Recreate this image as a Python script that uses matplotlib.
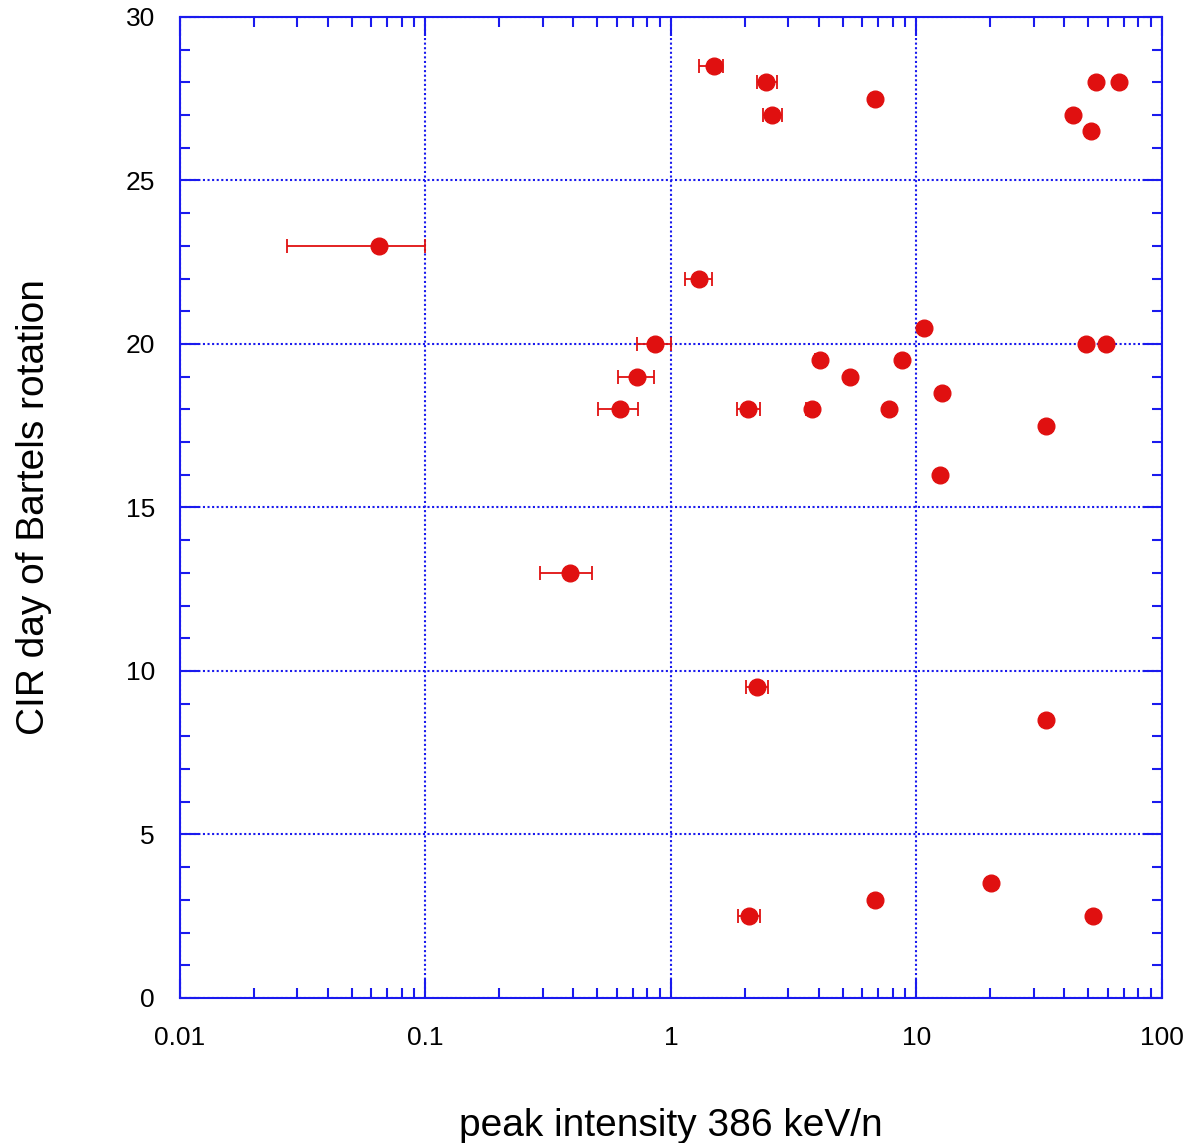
import numpy as np
import matplotlib.pyplot as plt
from matplotlib.ticker import FixedLocator, MultipleLocator, LogLocator, NullFormatter

# peak intensity (x), CIR day (y), and error bar ends (low / high)
intensity = [0.0647, 0.388, 0.619, 0.727, 0.861, 1.30, 1.50, 2.44, 2.58, 6.78,
             2.06, 3.75, 4.05, 5.36, 7.73, 8.73, 10.7, 12.7, 12.5, 33.7,
             49.0, 59.2, 43.4, 51.4, 53.8, 66.8, 2.24, 33.7, 2.08, 6.78,
             20.1, 52.4]
cir_day = [23, 13, 18, 19, 20, 22, 28.5, 28, 27, 27.5,
           18, 18, 19.5, 19, 18, 19.5, 20.5, 18.5, 16, 17.5,
           20, 20, 27, 26.5, 28, 28, 9.5, 8.5, 2.5, 3,
           3.5, 2.5]
err_lo = [0.0273, 0.292, 0.505, 0.608, 0.727, 1.14, 1.30, 2.24, 2.37, 6.78,
          1.86, 3.55, 3.85, 5.36, 7.73, 8.73, 10.7, 12.7, 12.5, 33.7,
          49.0, 59.2, 43.4, 51.4, 53.8, 66.8, 2.02, 33.7, 1.88, 6.78,
          20.1, 52.4]
err_hi = [0.100, 0.476, 0.735, 0.853, 1.00, 1.47, 1.63, 2.70, 2.83, 6.78,
          2.31, 3.95, 4.25, 5.36, 7.73, 8.73, 10.7, 12.7, 12.5, 33.7,
          49.0, 59.2, 43.4, 51.4, 53.8, 66.8, 2.48, 33.7, 2.30, 6.78,
          20.1, 52.4]

x = np.array(intensity)
xerr = np.vstack([x - np.array(err_lo), np.array(err_hi) - x])

plt.rcParams['font.family'] = ['Liberation Sans', 'DejaVu Sans']
blue = '#1a1aee'
red = '#e01010'

fig = plt.figure(figsize=(11.84, 11.43), dpi=100)
ax = fig.add_axes([0.152, 0.1269, 0.8294, 0.8583])

ax.errorbar(x, cir_day, xerr=xerr, fmt='o', color=red, ms=12,
            elinewidth=1.3, capsize=5, capthick=1.3, zorder=3)

ax.set_xscale('log')
ax.set_xlim(0.01, 100)
ax.set_ylim(0, 30)
ax.xaxis.set_major_locator(FixedLocator([0.01, 0.1, 1, 10, 100]))
ax.set_xticklabels(['0.01', '0.1', '1', '10', '100'])
ax.xaxis.set_minor_locator(LogLocator(base=10, subs=np.arange(2, 10)))
ax.xaxis.set_minor_formatter(NullFormatter())
ax.yaxis.set_major_locator(MultipleLocator(5))
ax.yaxis.set_minor_locator(MultipleLocator(1))

ax.grid(True, which='major', color=blue, linestyle=(0, (1, 1.2)), linewidth=1.5)
for s in ax.spines.values():
    s.set_color(blue)
    s.set_linewidth(1.5)
ax.tick_params(which='both', direction='in', top=True, right=True, color=blue,
               labelsize=19, width=1.5)
ax.tick_params(which='major', length=14)
ax.tick_params(which='minor', length=7)
ax.tick_params(axis='x', which='major', pad=20)
ax.tick_params(axis='y', which='major', pad=18)

ax.set_xlabel('peak intensity 386 keV/n', fontsize=28, labelpad=42)
ax.set_ylabel('CIR day of Bartels rotation', fontsize=28, labelpad=53)

fig.savefig('out.png', dpi=100)
